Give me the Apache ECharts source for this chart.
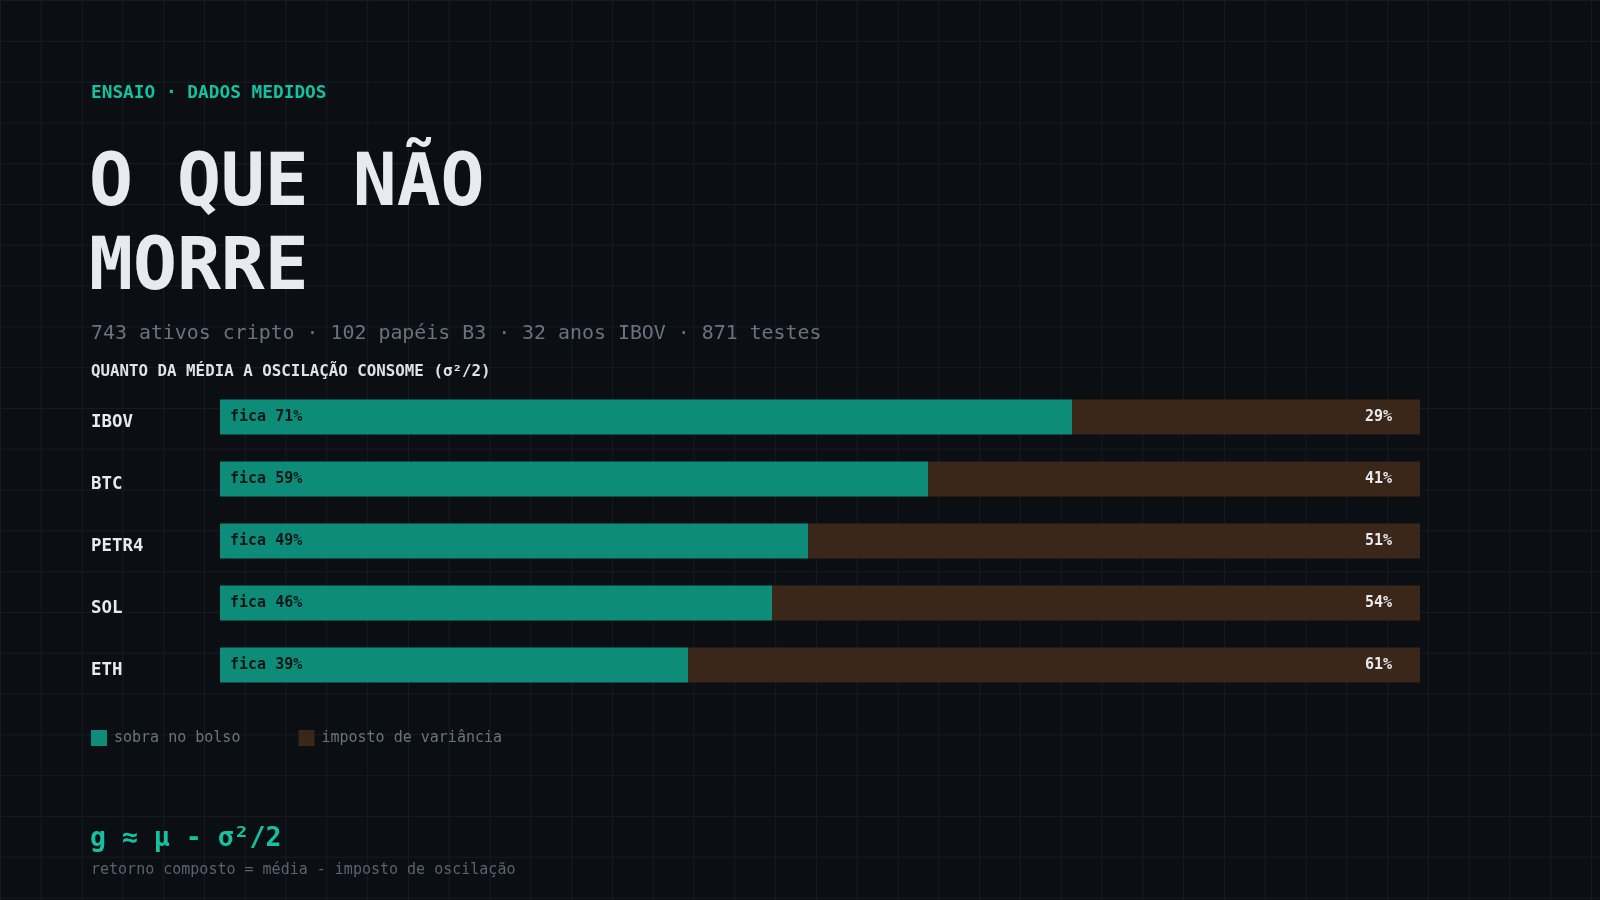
<!DOCTYPE html>
<html>
<head>
<meta charset="utf-8">
<script src="https://cdn.jsdelivr.net/npm/echarts@6/dist/echarts.min.js"></script>
<style>
  html, body { margin: 0; padding: 0; width: 1600px; height: 900px; background: #0b0e13; overflow: hidden; }
  #chart {
    width: 1600px; height: 900px;
    background-color: #0b0e13;
    background-image:
      linear-gradient(to right, #161a22 1px, transparent 1px),
      linear-gradient(to bottom, #161a22 1px, transparent 1px);
    background-size: 40.8px 40.8px;
  }
</style>
</head>
<body>
<div id="chart"></div>
<script>
const categories = ['IBOV', 'BTC', 'PETR4', 'SOL', 'ETH'];
const ficaValues = [71, 59, 49, 46, 39];
const impostoValues = [29, 41, 51, 54, 61];
const seriesNames = ['sobra no bolso', 'imposto de variância'];

const FONT = '"DejaVu Sans Mono", "Liberation Mono", monospace';
const chart = echarts.init(document.getElementById('chart'), null, { renderer: 'canvas' });

chart.setOption({
  backgroundColor: 'transparent',
  textStyle: { fontFamily: FONT },
  animation: false,
  graphic: [
    {
      type: 'text', left: 91, top: 84,
      style: { text: 'ENSAIO · DADOS MEDIDOS', fill: '#14c2a0', font: 'bold 17.8px ' + FONT }
    },
    {
      type: 'text', left: 89, top: 150,
      style: { text: 'O QUE NÃO', fill: '#e8eaef', font: 'bold 73px ' + FONT }
    },
    {
      type: 'text', left: 89, top: 234,
      style: { text: 'MORRE', fill: '#e8eaef', font: 'bold 73px ' + FONT }
    },
    {
      type: 'text', left: 91, top: 324,
      style: { text: '743 ativos cripto · 102 papéis B3 · 32 anos IBOV · 871 testes', fill: '#6b7280', font: 'normal 19.9px ' + FONT }
    },
    {
      type: 'text', left: 91, top: 364,
      style: { text: 'QUANTO DA MÉDIA A OSCILAÇÃO CONSOME (σ²/2)', fill: '#e0e2e8', font: 'bold 15.8px ' + FONT }
    },
    {
      type: 'text', left: 90, top: 826,
      style: { text: 'g ≈ μ - σ²/2', fill: '#14c2a0', font: 'bold 26.5px ' + FONT }
    },
    {
      type: 'text', left: 91, top: 863,
      style: { text: 'retorno composto = média - imposto de oscilação', fill: '#5b6270', font: 'normal 15px ' + FONT }
    }
  ],
  legend: {
    left: 86, top: 725,
    icon: 'rect',
    itemWidth: 16, itemHeight: 16, itemGap: 58,
    data: seriesNames,
    textStyle: { color: '#6b7280', fontSize: 15, fontFamily: FONT, padding: [0, 0, 0, 2] },
    selectedMode: false
  },
  grid: { left: 220, right: 180, top: 386, height: 310, containLabel: false },
  xAxis: {
    type: 'value', min: 0, max: 100,
    show: false
  },
  yAxis: {
    type: 'category',
    data: categories,
    inverse: true,
    axisLine: { show: false },
    axisTick: { show: false },
    splitLine: { show: false },
    axisLabel: {
      align: 'left', margin: 129,
      formatter: function (v) { return '{a|' + v + '}'; },
      rich: {
        a: {
          color: '#e8eaef', fontWeight: 'bold', fontSize: 17.4, fontFamily: FONT,
          padding: [11, 0, 0, 0]
        }
      }
    }
  },
  series: [
    {
      name: seriesNames[0], type: 'bar', stack: 'total',
      data: ficaValues, barWidth: 35,
      itemStyle: { color: '#0e8c7a' },
      label: {
        show: true, position: 'insideLeft', distance: 10,
        formatter: 'fica {c}%',
        color: '#0b1616', fontWeight: 'bold', fontSize: 15, fontFamily: FONT
      }
    },
    {
      name: seriesNames[1], type: 'bar', stack: 'total',
      data: impostoValues, barWidth: 35,
      itemStyle: { color: '#3b261a' },
      label: {
        show: true, position: 'insideRight', distance: 28,
        formatter: '{c}%',
        color: '#e8eaef', fontWeight: 'bold', fontSize: 15, fontFamily: FONT
      }
    }
  ]
});
</script>
</body>
</html>
